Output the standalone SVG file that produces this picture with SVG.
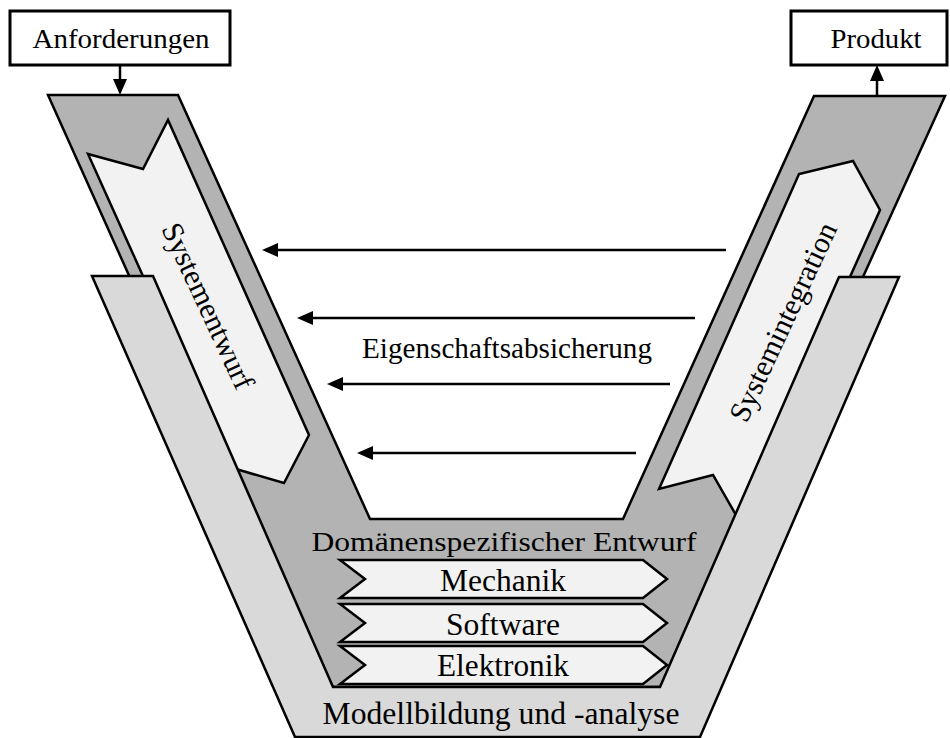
<svg xmlns="http://www.w3.org/2000/svg" width="950" height="738" viewBox="0 0 950 738">
<defs>
<style>
.t{font-family:"Liberation Serif","Times New Roman",serif;fill:#000}
.frame{fill:#b3b3b3;stroke:#000;stroke-width:2.5;stroke-linejoin:miter}
.panel{fill:#d9d9d9;stroke:#000;stroke-width:2.5;stroke-linejoin:miter}
.light{fill:#f2f2f2;stroke:#000;stroke-width:2.5;stroke-linejoin:miter}
.box{fill:#fff;stroke:#000;stroke-width:3}
.con{stroke:#000;stroke-width:2.5;fill:none;marker-end:url(#ah)}
</style>
<marker id="ah" viewBox="0 0 16 14" markerWidth="16" markerHeight="14" refX="6" refY="7" orient="auto" markerUnits="userSpaceOnUse">
<path d="M0,0 L16,7 L0,14 z" fill="#000"/>
</marker>
</defs>

<g id="v-frame">
<polygon class="frame" points="48,95 178,95 370,519 623,519 814,96 945,96 741,546 660,687 333,687 250,545"/>
</g>

<g id="systementwurf">
<polygon class="light" points="88,154 143,169 168,120 309,435 284,483 229,467"/>
<text class="t" font-size="30" text-anchor="middle" transform="translate(208,306) rotate(65)" y="10" textLength="180" lengthAdjust="spacingAndGlyphs">Systementwurf</text>
</g>

<g id="systemintegration">
<polygon class="light" points="659,489 799,174 853,161 880,210 740,522 713,475"/>
<text class="t" font-size="30" text-anchor="middle" transform="translate(783,322) rotate(-65)" y="10" textLength="216" lengthAdjust="spacingAndGlyphs">Systemintegration</text>
</g>

<g id="modellbildung">
<polygon class="panel" points="92,276 153,276 333,687 660,687 839,277 899,277 700,737 295,737"/>
<text class="t" font-size="31" x="501" y="724" text-anchor="middle" textLength="357" lengthAdjust="spacingAndGlyphs">Modellbildung und -analyse</text>
</g>

<g id="domaenenspezifisch">
<text class="t" font-size="28" x="504" y="551" text-anchor="middle" textLength="385" lengthAdjust="spacingAndGlyphs">Domänenspezifischer Entwurf</text>
</g>

<g id="mechanik">
<polygon class="light" points="340,560 643,560 667,579 643,598 340,598 365,579"/>
<text class="t" font-size="31" x="503" y="591" text-anchor="middle" textLength="126" lengthAdjust="spacingAndGlyphs">Mechanik</text>
</g>

<g id="software">
<polygon class="light" points="340,604 643,604 667,623 643,642 340,642 365,623"/>
<text class="t" font-size="31" x="503" y="635" text-anchor="middle" textLength="114" lengthAdjust="spacingAndGlyphs">Software</text>
</g>

<g id="elektronik">
<polygon class="light" points="340,646 643,646 667,665 643,684 340,684 365,665"/>
<text class="t" font-size="31" x="503" y="676" text-anchor="middle" textLength="132" lengthAdjust="spacingAndGlyphs">Elektronik</text>
</g>

<g id="anforderungen">
<rect class="box" x="10" y="11" width="220" height="54"/>
<text class="t" font-size="28" x="121" y="48" text-anchor="middle" textLength="177" lengthAdjust="spacingAndGlyphs">Anforderungen</text>
</g>

<g id="produkt">
<rect class="box" x="791" y="11" width="156" height="54"/>
<text class="t" font-size="28" x="876" y="48" text-anchor="middle" textLength="91" lengthAdjust="spacingAndGlyphs">Produkt</text>
</g>

<g id="eigenschaftsabsicherung">
<text class="t" font-size="28.5" x="507" y="358" text-anchor="middle" textLength="290" lengthAdjust="spacingAndGlyphs">Eigenschaftsabsicherung</text>
</g>

<g id="connectors">
<line class="con" x1="120" y1="66" x2="120" y2="85"/>
<line class="con" x1="877" y1="96" x2="877" y2="75"/>
<line class="con" x1="726" y1="250" x2="272" y2="250"/>
<line class="con" x1="695" y1="318" x2="307" y2="318"/>
<line class="con" x1="670" y1="384" x2="337" y2="384"/>
<line class="con" x1="636" y1="453" x2="367" y2="453"/>
</g>
</svg>
